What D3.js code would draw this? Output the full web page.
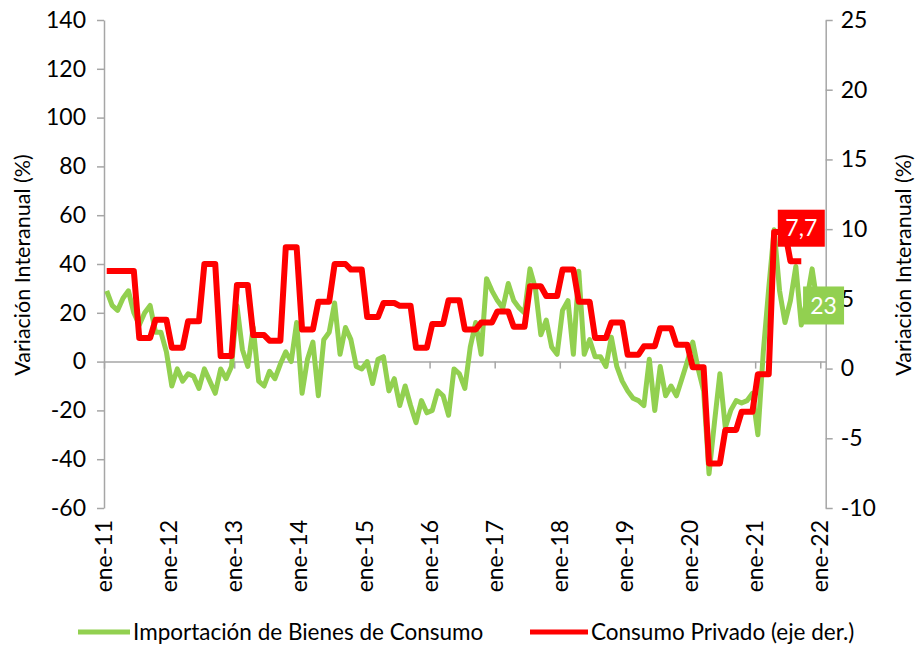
<!DOCTYPE html>
<html><head><meta charset="utf-8">
<script src="https://cdn.jsdelivr.net/npm/d3@7"></script>
<style>body{margin:0;background:#fff} text{font-family:Lato, "Open Sans", sans-serif}</style>
</head><body>
<svg id="c" width="920" height="646"></svg>
<script>
// ---- data ----
const yearLabels = ["ene-11","ene-12","ene-13","ene-14","ene-15","ene-16","ene-17","ene-18","ene-19","ene-20","ene-21","ene-22"];
const leftTicks = [-60,-40,-20,0,20,40,60,80,100,120,140];
const rightTicks = [-10,-5,0,5,10,15,20,25];
// Importación de Bienes de Consumo, monthly ene-11 .. dic-21 (%)
const importaciones = [
 29, 23, 21, 26, 29, 20, 15, 20, 23, 12, 12, 4,
 -10, -3, -8, -5, -6, -11, -3, -8, -13, -3, -7, -2,
 23, 5, -2, 14, -8, -10, -4, -7, -1, 4, 0, 16,
 -13, 1, 8, -14, 9, 12, 24, 3, 14, 9, -2, -3,
 0, -9, 1, 2, -12, -7, -18, -10, -18, -25, -16, -21,
 -20, -12, -14, -22, -3, -5, -11, 6, 16, 3, 34, 29,
 25, 22, 32, 25, 22, 20, 38, 30, 11, 17, 6, 3,
 21, 25, 3, 37, 3, 9, 2, 2, -2, 10, -2, -8,
 -12, -15, -16, -18, 1, -20, -2, -14, -10, -14, -7, 0,
 8, -3, -12, -46, -25, -5, -27, -20, -16, -17, -16, -13,
 -30, 4, 30, 54, 29, 16, 25, 39, 15, 25, 38, 23
];
// Consumo Privado (eje der.), monthly ene-11 .. sep-21 (%)
const consumo = [
 7.0,7.0,7.0, 7.0,7.0,7.0, 2.2,2.2,2.2, 3.5,3.5,3.5,
 1.5,1.5,1.5, 3.4,3.4,3.4, 7.5,7.5,7.5, 0.9,0.9,0.9,
 6.0,6.0,6.0, 2.4,2.4,2.4, 2.0,2.0,2.0, 8.7,8.7,8.7,
 2.8,2.8,2.8, 4.8,4.8,4.8, 7.5,7.5,7.5, 7.1,7.1,7.1,
 3.7,3.7,3.7, 4.7,4.7,4.7, 4.5,4.5,4.5, 1.5,1.5,1.5,
 3.2,3.2,3.2, 4.9,4.9,4.9, 2.8,2.8,2.8, 3.3,3.3,3.3,
 4.1,4.1,4.1, 3.0,3.0,3.0, 5.9,5.9,5.9, 5.2,5.2,5.2,
 7.1,7.1,7.1, 4.8,4.8,4.8, 2.2,2.2,2.2, 3.3,3.3,3.3,
 1.0,1.0,1.0, 1.6,1.6,1.6, 2.9,2.9,2.9, 1.7,1.7,1.7,
 0.1,0.1,0.1, -6.8,-6.8,-6.8, -4.4,-4.4,-4.4, -3.1,-3.1,-3.1,
 -0.4,-0.4,-0.4, 9.8,9.8,9.8, 7.7,7.7,7.7
];
const seriesNames = ["Importación de Bienes de Consumo","Consumo Privado (eje der.)"];
const labelImport = "23", labelConsumo = "7,7";

// ---- chart ----
const GREEN = "#92D050", RED = "#FF0000", AXIS = "#A6A6A6";
const svg = d3.select("#c");
const x = d3.scaleLinear().domain([0, 133]).range([104, 825.7]);
const yL = d3.scaleLinear().domain([-60, 140]).range([508, 20]);
const yR = d3.scaleLinear().domain([-10, 25]).range([508, 20]);
const mx = i => x(i + 0.5);
const plain = d => String(d);

function styleAxis(g){
  g.selectAll("path.domain").attr("stroke", AXIS).attr("stroke-width", 1.5);
  g.selectAll(".tick line").attr("stroke", AXIS).attr("stroke-width", 1.5);
  g.selectAll(".tick text").attr("fill", "#000").style("font-size", "23px").style("font-family","Lato");
}
const gL = svg.append("g").attr("transform", `translate(${x(0)},0)`)
  .call(d3.axisLeft(yL).tickValues(leftTicks).tickSize(7).tickSizeOuter(0).tickPadding(11).tickFormat(plain));
styleAxis(gL);
const gR = svg.append("g").attr("transform", `translate(${x(133)},0)`)
  .call(d3.axisRight(yR).tickValues(rightTicks).tickSize(7).tickSizeOuter(0).tickPadding(8).tickFormat(plain));
styleAxis(gR);

// category axis at zero of left axis
const gX = svg.append("g").attr("transform", `translate(0,${yL(0)})`)
  .call(d3.axisBottom(x).tickValues(d3.range(0, 133, 12)).tickSize(7).tickSizeOuter(0).tickFormat(""));
styleAxis(gX);
// labels at bottom
svg.append("g").selectAll("text").data(yearLabels).join("text")
  .attr("transform", (d,i) => `translate(${x(i*12)},520) rotate(-90)`)
  .attr("text-anchor", "end").attr("dy", "0.35em")
  .style("font-size", "23px").text(d => d);

// lines
const lineL = d3.line().x((d,i) => mx(i)).y(d => yL(d));
const lineR = d3.line().x((d,i) => mx(i)).y(d => yR(d));
svg.append("path").datum(importaciones).attr("d", lineL)
  .attr("fill","none").attr("stroke",GREEN).attr("stroke-width",5).attr("stroke-linejoin","round");
svg.append("path").datum(consumo).attr("d", lineR)
  .attr("fill","none").attr("stroke",RED).attr("stroke-width",6).attr("stroke-linejoin","round");

// data labels
const li = importaciones.length - 1, lc = consumo.length - 1;
const gx = mx(li) + 6, gy = yL(importaciones[li]);
svg.append("rect").attr("x", gx - 20.5).attr("y", gy - 19).attr("width", 41).attr("height", 38).attr("fill", GREEN);
svg.append("text").attr("x", gx).attr("y", gy).attr("dy","0.36em").attr("text-anchor","middle")
  .attr("fill","#fff").style("font-size","23px").text(labelImport);
const cx = mx(lc), cy = yR(consumo[lc]) - 33;
svg.append("rect").attr("x", cx - 23.5).attr("y", cy - 18.5).attr("width", 47).attr("height", 37).attr("fill", RED);
svg.append("text").attr("x", cx).attr("y", cy).attr("dy","0.36em").attr("text-anchor","middle")
  .attr("fill","#fff").style("font-size","23px").text(labelConsumo);

// axis titles
svg.append("text").attr("transform","translate(22,265) rotate(-90)").attr("text-anchor","middle")
  .attr("dy","0.35em").style("font-size","21.5px").text("Variación Interanual (%)");
svg.append("text").attr("transform","translate(903,265) rotate(-90)").attr("text-anchor","middle")
  .attr("dy","0.35em").style("font-size","21.5px").text("Variación Interanual (%)");

// legend
const leg = [{c:GREEN, x1:78, x2:130, tx:133, t:seriesNames[0]}, {c:RED, x1:530, x2:588, tx:591, t:seriesNames[1]}];
leg.forEach(l => {
  svg.append("line").attr("x1",l.x1).attr("x2",l.x2).attr("y1",632).attr("y2",632)
    .attr("stroke",l.c).attr("stroke-width",5);
  svg.append("text").attr("x",l.tx).attr("y",632).attr("dy","0.35em").style("font-size","22.5px").text(l.t);
});
</script>
</body></html>
